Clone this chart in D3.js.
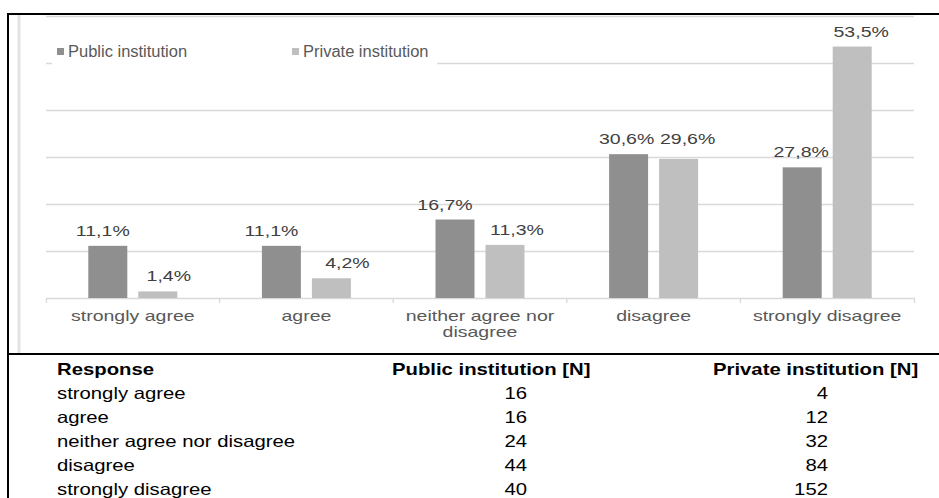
<!DOCTYPE html>
<html>
<head>
<meta charset="utf-8">
<script src="https://cdn.jsdelivr.net/npm/d3@7"></script>
<style>
  body { margin: 0; background: #fff; }
  svg { display: block; font-family: "Liberation Sans", Arial, sans-serif; }
</style>
</head>
<body>
<svg id="chart"></svg>
<script>
// data
var categories = ["strongly agree", "agree", "neither agree nor disagree", "disagree", "strongly disagree"];
var seriesNames = ["Public institution", "Private institution"];
var publicPct = [11.1, 11.1, 16.7, 30.6, 27.8];
var privatePct = [1.4, 4.2, 11.3, 29.6, 53.5];
var publicN = [16, 16, 24, 44, 40];
var privateN = [4, 12, 32, 84, 152];
var yTicks = [0, 10, 20, 30, 40, 50, 60];
var tableHeader = ["Response", "Public institution [N]", "Private institution [N]"];

// hand-placed data labels in the original (nudges in px)
var publicLabelDx = [-5, -10, -10, -2, -1];
var privateLabelDx = [11, 16, 12, 9, 9];
var privateLabelDy = [0, 0, 0, -5, 0];

var width = 939;
var height = 498;
var plotLeft = 46, plotRight = 914, plotTop = 16, plotBottom = 298;
var colors = ["#8f8f8f", "#bfbfbf"];
var gridColor = "#d9d9d9";

var svg = d3.select("#chart")
    .attr("width", width)
    .attr("height", height);

svg.append("rect")
    .attr("width", width)
    .attr("height", height)
    .attr("fill", "#fff");

//stretch text horizontally like the original image
function stretch(sel, k) {
  sel.each(function() {
    var w = this.getComputedTextLength();
    d3.select(this)
      .attr("textLength", w * k)
      .attr("lengthAdjust", "spacingAndGlyphs");
  });
}

var rows = categories.map(function(c, i) {
  return { cat: c, values: [publicPct[i], privatePct[i]], n: [publicN[i], privateN[i]], i: i };
});

// scales
var xScale = d3.scaleBand()
    .domain(categories)
    .range([plotLeft, plotRight]);

var xSub = d3.scaleBand()
    .domain([0, 1])
    .range([0, 89])
    .paddingInner(0.22);

var yScale = d3.scaleLinear()
    .domain([0, 60])
    .range([plotBottom, plotTop]);

// frame lines
svg.append("line")
    .attr("x1", 19).attr("x2", 19)
    .attr("y1", 14).attr("y2", 353)
    .attr("stroke", "#e3e3e3")
    .attr("stroke-width", 3);

// gridlines
var grid = svg.append("g")
    .attr("transform", "translate(" + plotLeft + ",0)")
    .call(d3.axisLeft(yScale)
      .tickValues(yTicks.slice(1))
      .tickSize(-(plotRight - plotLeft))
      .tickFormat(""));
grid.select(".domain").remove();
grid.selectAll("line")
    .attr("stroke", gridColor)
    .attr("stroke-width", 1.3);

// x axis baseline
var xAxis = svg.append("g")
    .attr("transform", "translate(0," + plotBottom + ")")
    .call(d3.axisBottom(xScale)
      .tickSizeInner(0)
      .tickSizeOuter(5)
      .tickFormat(""));
xAxis.select(".domain")
    .attr("stroke", gridColor)
    .attr("stroke-width", 1.3);

//boundary ticks between categories
svg.selectAll(".bound")
    .data(categories.slice(1))
    .enter()
    .append("line")
    .attr("x1", function(d) { return xScale(d); })
    .attr("x2", function(d) { return xScale(d); })
    .attr("y1", plotBottom)
    .attr("y2", plotBottom + 5)
    .attr("stroke", gridColor)
    .attr("stroke-width", 1.3);

// bars
function barX(d, s) {
  return xScale(d.cat) + xScale.bandwidth() / 2 - 44.5 + xSub(s);
}

var groups = svg.selectAll(".grp")
    .data(rows)
    .enter()
    .append("g");

[0, 1].forEach(function(s) {
  groups.append("rect")
      .attr("x", function(d) { return barX(d, s); })
      .attr("y", function(d) { return yScale(d.values[s]); })
      .attr("width", xSub.bandwidth())
      .attr("height", function(d) { return plotBottom - yScale(d.values[s]); })
      .attr("fill", colors[s]);
});

// value labels
var fmt = function(v) { return v.toFixed(1).replace(".", ",") + "%"; };

[0, 1].forEach(function(s) {
  var lab = groups.append("text")
      .attr("x", function(d) {
        var dx = s === 0 ? publicLabelDx[d.i] : privateLabelDx[d.i];
        return barX(d, s) + xSub.bandwidth() / 2 + dx;
      })
      .attr("y", function(d) {
        var dy = s === 0 ? 0 : privateLabelDy[d.i];
        return yScale(d.values[s]) - 10 + dy;
      })
      .attr("text-anchor", "middle")
      .attr("font-size", "15px")
      .attr("fill", "#404040")
      .text(function(d) { return fmt(d.values[s]); });
  stretch(lab, 1.3);
});

// category labels (wrap the long one like excel)
var catLabels = svg.selectAll(".cat")
    .data(categories)
    .enter()
    .append("text")
    .attr("text-anchor", "middle")
    .attr("font-size", "15px")
    .attr("fill", "#595959");

catLabels.each(function(d) {
  var lines = d === "neither agree nor disagree" ? ["neither agree nor", "disagree"] : [d];
  var t = d3.select(this);
  lines.forEach(function(line, j) {
    var ts = t.append("tspan")
        .attr("x", xScale(d) + xScale.bandwidth() / 2)
        .attr("y", 321 + j * 16)
        .text(line);
    stretch(ts, 1.3);
  });
});

// legend
svg.append("rect")
    .attr("x", 52)
    .attr("y", 38)
    .attr("width", 385)
    .attr("height", 28)
    .attr("fill", "#fff");

var legendX = [57, 292];
seriesNames.forEach(function(name, s) {
  svg.append("rect")
      .attr("x", legendX[s])
      .attr("y", 48)
      .attr("width", 7)
      .attr("height", 7)
      .attr("fill", colors[s]);
  var lt = svg.append("text")
      .attr("x", legendX[s] + 11)
      .attr("y", 57)
      .attr("font-size", "16px")
      .attr("fill", "#595959")
      .text(name);
  stretch(lt, 1.03);
});

// black frame
svg.append("line")
    .attr("x1", 8).attr("x2", width)
    .attr("y1", 14).attr("y2", 14)
    .attr("stroke", "#000").attr("stroke-width", 2);
svg.append("line")
    .attr("x1", 8).attr("x2", 8)
    .attr("y1", 13).attr("y2", height)
    .attr("stroke", "#000").attr("stroke-width", 2);
svg.append("line")
    .attr("x1", 8).attr("x2", width)
    .attr("y1", 354).attr("y2", 354)
    .attr("stroke", "#000").attr("stroke-width", 2);

// table under the chart
var rowY = 375, rowStep = 24;
var colX = [57, 392, 713];
var numRight = [527, 828];

tableHeader.forEach(function(h, c) {
  var th = svg.append("text")
      .attr("x", colX[c])
      .attr("y", rowY)
      .attr("font-size", "16.5px")
      .attr("font-weight", "bold")
      .attr("fill", "#000")
      .text(h);
  stretch(th, 1.23);
});

var trows = svg.selectAll(".trow")
    .data(rows)
    .enter()
    .append("g")
    .attr("transform", function(d) { return "translate(0," + (rowY + rowStep * (d.i + 1)) + ")"; });

stretch(trows.append("text")
    .attr("x", colX[0])
    .attr("font-size", "16.5px")
    .text(function(d) { return d.cat; }), 1.23);

[0, 1].forEach(function(s) {
  stretch(trows.append("text")
      .attr("x", numRight[s])
      .attr("text-anchor", "end")
      .attr("font-size", "16.5px")
      .text(function(d) { return d.n[s]; }), 1.23);
});
</script>
</body>
</html>
